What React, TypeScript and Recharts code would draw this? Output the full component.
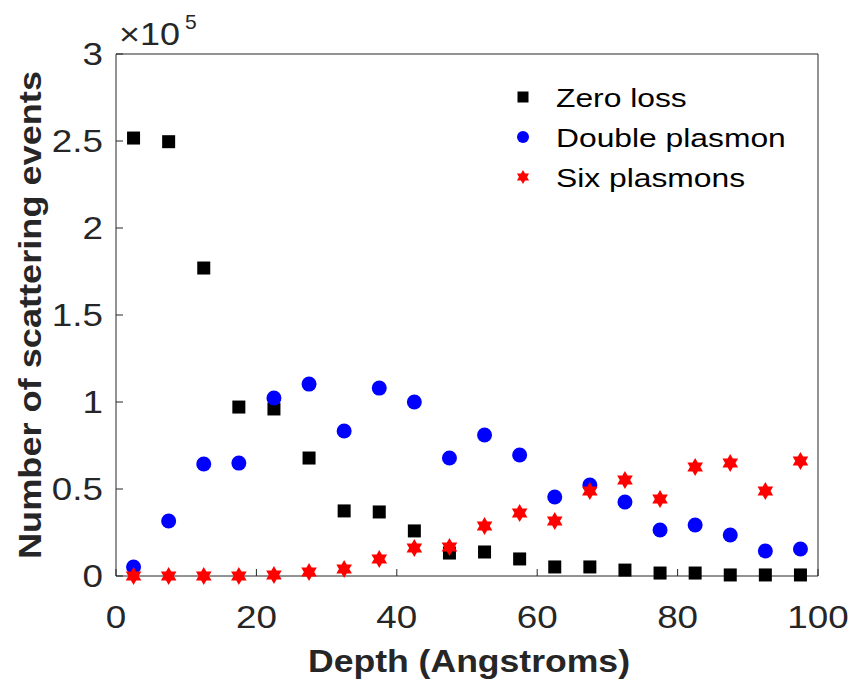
import { ScatterChart, Scatter, XAxis, YAxis, Legend, Label } from 'recharts'

const depth = [2.5, 7.5, 12.5, 17.5, 22.5, 27.5, 32.5, 37.5, 42.5, 47.5, 52.5, 57.5, 62.5, 67.5, 72.5, 77.5, 82.5, 87.5, 92.5, 97.5]
const zeroLoss = [251700, 249600, 177000, 97100, 96000, 67800, 37400, 36800, 25900, 13200, 13800, 9800, 5200, 5200, 3400, 1700, 1700, 600, 600, 600]
const doublePlasmon = [5200, 31600, 64400, 64900, 102300, 110300, 83300, 108000, 100000, 67800, 81000, 69500, 45400, 52300, 42500, 26400, 29300, 23600, 14400, 15500]
const sixPlasmons = [0, 0, 0, 0, 600, 2300, 4000, 9800, 16100, 16700, 28700, 36200, 31600, 48900, 55200, 44300, 62600, 64900, 48900, 66100]

const xTicks = [0, 20, 40, 60, 80, 100]
const yTicks = [0, 50000, 100000, 150000, 200000, 250000, 300000]
const seriesNames = ['Zero loss', 'Double plasmon', 'Six plasmons']

const toRows = (ys: number[]) => depth.map((d, i) => ({ depth: d, count: ys[i] }))

const FONT = '"Liberation Sans", Arial, Helvetica, sans-serif'
const AXIS = '#262626'
const STRETCH = 1.15

// hexagram points around (cx, cy)
const starPoints = (cx: number, cy: number, R: number) => {
  const r = R / Math.sqrt(3)
  const pts: string[] = []
  for (let k = 0; k < 12; k++) {
    const rad = k % 2 === 0 ? R : r
    const a = (-90 + k * 30) * Math.PI / 180
    pts.push(`${cx + rad * Math.cos(a)},${cy + rad * Math.sin(a)}`)
  }
  return pts.join(' ')
}

const SquareDot = (p: any) => <rect x={p.cx - 6.5} y={p.cy - 6.5} width={13} height={13} fill="#000" />
const CircleDot = (p: any) => <circle cx={p.cx} cy={p.cy} r={7.5} fill="#0000ff" />
const StarDot = (p: any) => <polygon points={starPoints(p.cx, p.cy, 9)} fill="#ff0000" />

const XTick = (p: any) => (
  <g transform={`translate(${p.x},${p.y}) scale(${STRETCH},1)`}>
    <text x={0} y={0} dy="0.71em" textAnchor="middle" fontSize={32} fontFamily={FONT} fill={AXIS}>
      {p.payload.value}
    </text>
  </g>
)

const YTick = (p: any) => (
  <g transform={`translate(${p.x},${p.y}) scale(${STRETCH},1)`}>
    <text x={0} y={0} dy="0.355em" textAnchor="end" fontSize={32} fontFamily={FONT} fill={AXIS}>
      {p.payload.value / 100000}
    </text>
  </g>
)

const ExpLabel = (p: any) => {
  const vb = p.viewBox
  const x = vb.x + vb.width + 3
  const y = vb.y - 9
  return (
    <g fontFamily={FONT} fill={AXIS}>
      <text x={x} y={y} fontSize={32} textLength={61} lengthAdjust="spacingAndGlyphs">×10</text>
      <text x={x + 66} y={y - 16} fontSize={21}>5</text>
    </g>
  )
}

const YTitle = (p: any) => {
  const vb = p.viewBox
  const x = vb.x + 41
  const y = vb.y + vb.height / 2
  return (
    <text x={x} y={y} transform={`rotate(-90, ${x}, ${y})`} textAnchor="middle" fontSize={32}
      fontWeight="bold" fontFamily={FONT} fill={AXIS} textLength={488} lengthAdjust="spacingAndGlyphs">
      Number of scattering events
    </text>
  )
}

const XTitle = (p: any) => {
  const vb = p.viewBox
  return (
    <text x={vb.x + vb.width / 2 + 2} y={vb.y + 96} textAnchor="middle" fontSize={31} fontWeight="bold"
      fontFamily={FONT} fill={AXIS} textLength={322} lengthAdjust="spacingAndGlyphs">
      Depth (Angstroms)
    </text>
  )
}

const legendMarks = [
  (cx: number, cy: number) => <rect x={cx - 5.5} y={cy - 5.5} width={11} height={11} fill="#000" />,
  (cx: number, cy: number) => <circle cx={cx} cy={cy} r={6} fill="#0000ff" />,
  (cx: number, cy: number) => <polygon points={starPoints(cx, cy, 7)} fill="#ff0000" />,
]

const LegendBox = () => (
  <svg width={320} height={130}>
    {seriesNames.map((name, i) => {
      const cy = 17 + i * 40
      return (
        <g key={name}>
          {legendMarks[i](8, cy)}
          <g transform={`translate(41,${cy}) scale(1.2,1)`}>
            <text x={0} y={0} dy="0.36em" fontSize={26.5} fontFamily={FONT} fill="#000">{name}</text>
          </g>
        </g>
      )
    })}
  </svg>
)

export default function App() {
  return (
    <div style={{ position: 'absolute', left: 0, top: 0, background: '#fff' }}>
      <ScatterChart width={852} height={683} margin={{ top: 53, right: 33, bottom: 0, left: 0 }}>
        <XAxis dataKey="depth" type="number" domain={[0, 100]} ticks={xTicks} height={107}
          stroke={AXIS} tickSize={-7} tickMargin={36} tick={XTick} interval={0}>
          <Label content={XTitle} />
        </XAxis>
        <XAxis xAxisId="top" orientation="top" type="number" domain={[0, 100]} ticks={xTicks} height={1}
          stroke={AXIS} tickSize={-7} tick={false} interval={0} />
        <YAxis dataKey="count" type="number" domain={[0, 300000]} ticks={yTicks} width={116}
          stroke={AXIS} tickSize={-7} tickMargin={20} tick={YTick} interval={0}>
          <Label content={ExpLabel} />
          <Label content={YTitle} />
        </YAxis>
        <YAxis yAxisId="right" orientation="right" type="number" domain={[0, 300000]} ticks={yTicks} width={1}
          stroke={AXIS} tickSize={-7} tick={false} interval={0} />
        <Legend layout="vertical" align="center" verticalAlign="middle" content={LegendBox}
          wrapperStyle={{ position: 'absolute', left: 515, top: 80, width: 320, height: 130 }} />
        <Scatter name="Zero loss" data={toRows(zeroLoss)} shape={SquareDot} isAnimationActive={false} />
        <Scatter name="Double plasmon" data={toRows(doublePlasmon)} shape={CircleDot} isAnimationActive={false} />
        <Scatter name="Six plasmons" data={toRows(sixPlasmons)} shape={StarDot} isAnimationActive={false} />
      </ScatterChart>
    </div>
  )
}
